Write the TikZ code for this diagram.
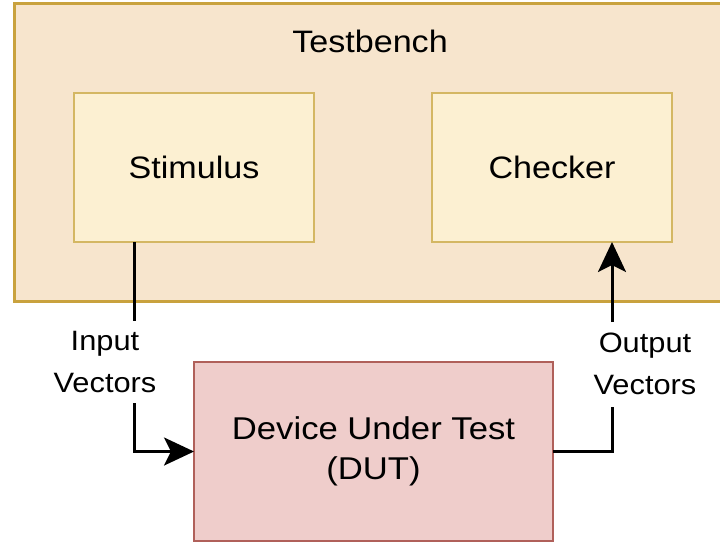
\documentclass[tikz,border=0pt]{standalone}
\usepackage{fontspec}
\setmainfont{Liberation Sans}[FakeStretch=1.1]
\usetikzlibrary{arrows.meta,calc}
\definecolor{tbfill}{HTML}{F7E5CD}
\definecolor{tbdraw}{HTML}{C9A23E}
\definecolor{infill}{HTML}{FCF0D2}
\definecolor{indraw}{HTML}{D4B763}
\definecolor{dutfill}{HTML}{EFCDCB}
\definecolor{dutdraw}{HTML}{B0605A}
\begin{document}
\begin{tikzpicture}[x=1pt,y=-1pt,
  outerbox/.style={draw=tbdraw,fill=tbfill,line width=3pt,inner sep=0pt,outer sep=0pt},
  innerbox/.style={draw=indraw,fill=infill,line width=2.5pt,inner sep=0pt,outer sep=0pt,
    minimum width=240pt,minimum height=149pt,font=\fontsize{31}{40}\selectfont},
  dutbox/.style={draw=dutdraw,fill=dutfill,line width=2.6pt,inner sep=0pt,outer sep=0pt,
    minimum width=359pt,minimum height=179pt,align=center,font=\fontsize{31.5}{40}\selectfont},
  title/.style={font=\fontsize{31}{40}\selectfont,inner sep=0pt},
  lbl/.style={align=center,inner sep=0pt,font=\fontsize{28}{42}\selectfont},
  conn/.style={draw=black,line width=3pt},
  arr/.style={conn,-{Stealth[length=30pt,width=28pt,inset=7pt]}}
]
\useasboundingbox (0,0) rectangle (720,542);
\clip (0,0) rectangle (720,542);
\fill[white] (0,0) rectangle (720,542);
\node[outerbox,minimum width=712pt,minimum height=298pt] (tb) at (370,152) {};
\node[title,anchor=base] (tbl) at (370,52) {Testbench};
\node[innerbox] (stim) at (194,167.5) {Stimulus};
\node[innerbox] (chk) at (552,167.5) {Checker};
\node[dutbox] (dut) at (373.5,451.5) {Device Under Test\\(DUT)};
\node[lbl] (inl) at (105,362) {Input\\Vectors};
\node[lbl] (outl) at (645,364) {Output\\Vectors};
\coordinate (s0) at ($(stim.south west)!0.25!(stim.south east)$);
\coordinate (s1) at (134,321);
\coordinate (s2) at (134,403);
\coordinate (c0) at ($(chk.south west)!0.75!(chk.south east)$);
\coordinate (o1) at (612,407);
\coordinate (o2) at (612,322);
\draw[conn] (s0) -- (s1);
\draw[arr] (s2) |- (dut.west);
\draw[conn] (dut.east) -| (o1);
\draw[arr] (o2) -- (c0);
\end{tikzpicture}
\end{document}
